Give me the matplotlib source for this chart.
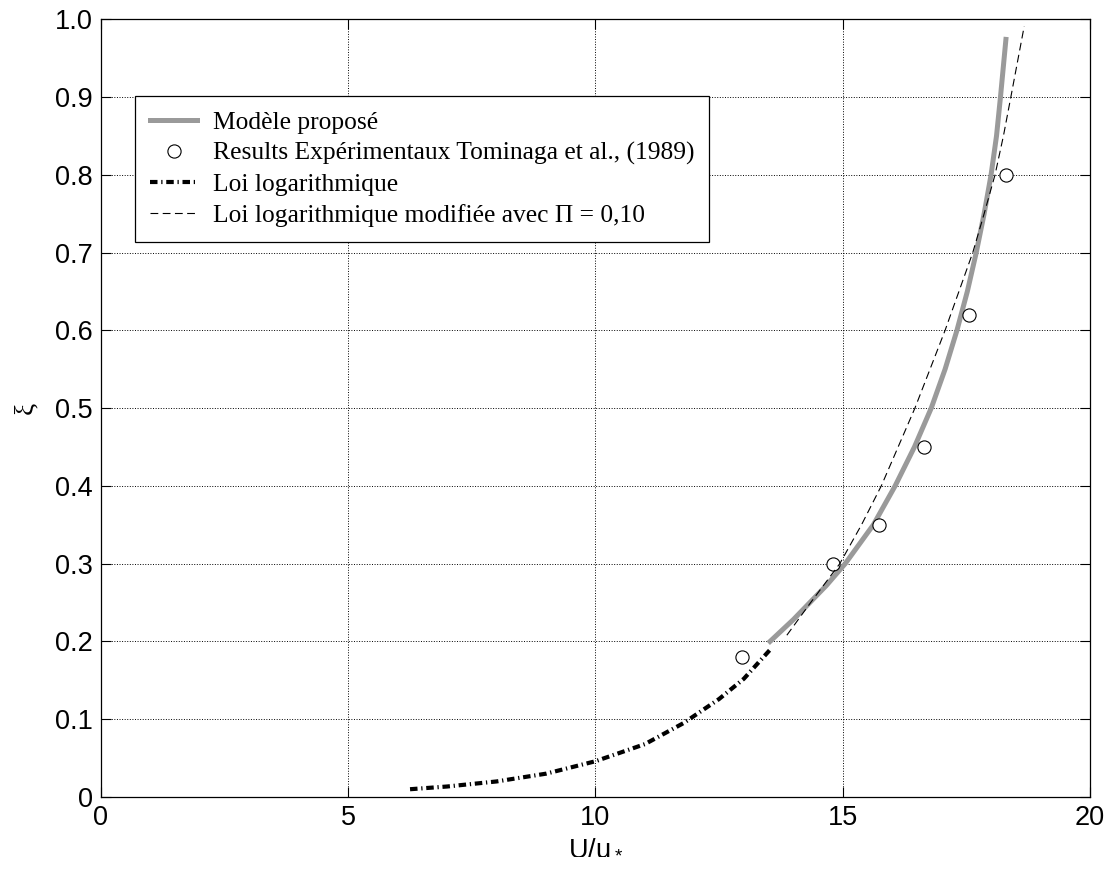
import numpy as np
import matplotlib
matplotlib.use('Agg')
import matplotlib.pyplot as plt

plt.rcParams['font.family'] = 'Liberation Sans'
plt.rcParams['mathtext.default'] = 'regular'

# Modele propose (courbe grise)
x_model = [13.53, 14.0, 14.67, 15.05, 15.62, 16.06, 16.45, 16.79, 17.07, 17.31, 17.52, 17.70, 17.86, 18.00, 18.11, 18.19, 18.30]
y_model = [0.20, 0.228, 0.272, 0.30, 0.35, 0.40, 0.45, 0.50, 0.55, 0.60, 0.65, 0.70, 0.75, 0.80, 0.85, 0.90, 0.974]

# Points experimentaux Tominaga et al. (1989)
x_exp = [12.96, 14.81, 15.73, 16.64, 17.55, 18.31]
y_exp = [0.18, 0.30, 0.35, 0.45, 0.62, 0.80]

# Loi logarithmique
x_log = [6.25, 7.0, 8.0, 9.0, 10.0, 11.0, 11.78, 12.5, 13.0, 13.54]
y_log = [0.010, 0.0135, 0.020, 0.030, 0.046, 0.068, 0.095, 0.126, 0.152, 0.19]

# Loi logarithmique modifiee (Pi = 0,10)
x_mod = [13.87, 14.34, 14.94, 15.38, 15.78, 16.46, 17.07, 17.63, 17.86, 18.08, 18.25, 18.40, 18.67]
y_mod = [0.208, 0.249, 0.30, 0.35, 0.40, 0.50, 0.60, 0.70, 0.75, 0.80, 0.85, 0.90, 0.991]

xticks = [0, 5, 10, 15, 20]
yticks = [0, 0.1, 0.2, 0.3, 0.4, 0.5, 0.6, 0.7, 0.8, 0.9, 1.0]
ytick_labels = ['0', '0.1', '0.2', '0.3', '0.4', '0.5', '0.6', '0.7', '0.8', '0.9', '1.0']

labels = ['Modèle proposé',
          'Results Expérimentaux Tominaga et al., (1989)',
          'Loi logarithmique',
          'Loi logarithmique modifiée avec Π = 0,10']

fig = plt.figure(figsize=(11.12, 8.72), dpi=100)
ax = fig.add_axes([0.0908, 0.086, 0.8894, 0.892])

ax.plot(x_model, y_model, color='#9a9a9a', linewidth=3.6, label=labels[0])
ax.plot(x_exp, y_exp, 'o', markerfacecolor='white', markeredgecolor='black',
        markeredgewidth=0.8, markersize=9.5, label=labels[1])
ax.plot(x_log, y_log, color='black', linewidth=3.0,
        linestyle=(0, (1.8, 0.9, 0.3, 0.9)), label=labels[2])
ax.plot(x_mod, y_mod, color='black', linewidth=0.8,
        linestyle=(0, (7, 4)), label=labels[3])

ax.set_xlim(0, 20)
ax.set_ylim(0, 1)
ax.set_xticks(xticks)
ax.set_yticks(yticks)
ax.set_yticklabels(ytick_labels)
ax.tick_params(direction='in', length=7, width=0.8, top=True, right=True,
               labelsize=19.5, pad=6)
ax.grid(True, linestyle=':', color='black', linewidth=0.7)
for s in ax.spines.values():
    s.set_linewidth(0.9)

ax.set_xlabel('U/u$_*$', fontsize=19.5, labelpad=2)
ax.set_ylabel('ξ', fontsize=19.5, family='Liberation Serif', labelpad=12)

leg = ax.legend(loc='upper left', bbox_to_anchor=(0.034, 0.901), borderaxespad=0,
                prop={'family': 'Liberation Serif', 'size': 18.4},
                frameon=True, fancybox=False, edgecolor='black', framealpha=1,
                handlelength=1.85, labelspacing=0.3, handletextpad=0.6,
                borderpad=0.6)
leg.get_frame().set_linewidth(0.9)

plt.savefig('out.png', dpi=100)
